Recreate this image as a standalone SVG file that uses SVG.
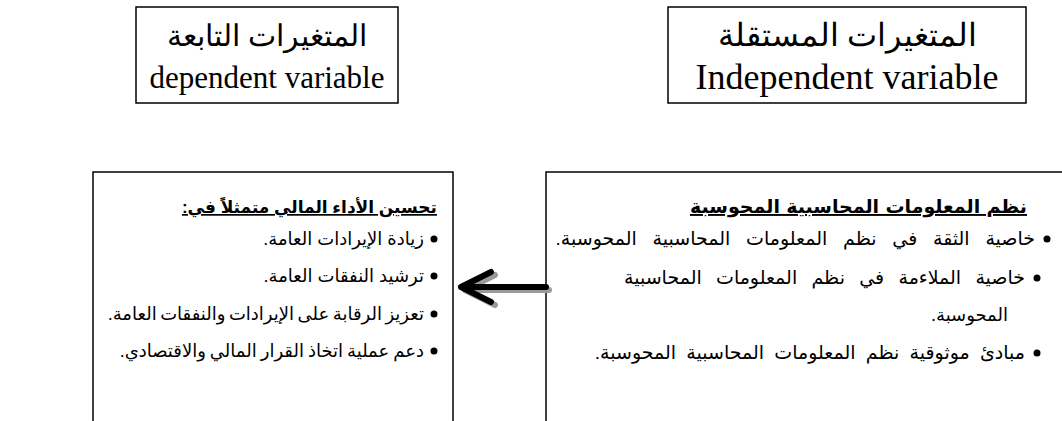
<svg xmlns="http://www.w3.org/2000/svg" width="1062" height="421" viewBox="0 0 1062 421">
  <defs>
    <style>
      .box { fill: #ffffff; stroke: #000000; stroke-width: 1.5; }
      .ar-serif { font-family: "Liberation Serif", "DejaVu Serif", serif; fill: #000; }
      .en-serif { font-family: "Liberation Serif", serif; fill: #000; }
      .title { font-family: "Liberation Sans", "DejaVu Sans", sans-serif; font-weight: bold; text-decoration: underline; fill: #000; }
      .item { font-family: "Liberation Sans", "DejaVu Sans", sans-serif; fill: #000; }
      .dot { fill: #000; }
      .arrow { fill: none; stroke-width: 6; stroke-linecap: round; stroke-linejoin: round; }
    </style>
  </defs>

  <!-- heading: dependent variable -->
  <g id="dependent-heading">
    <rect class="box" x="136" y="7" width="262" height="96"/>
    <text class="ar-serif" x="267" y="46" font-size="30" text-anchor="middle" direction="rtl">المتغيرات التابعة</text>
    <text class="en-serif" x="267" y="88" font-size="31" text-anchor="middle">dependent variable</text>
  </g>

  <!-- heading: independent variable -->
  <g id="independent-heading">
    <rect class="box" x="668" y="7" width="358" height="96"/>
    <text class="ar-serif" x="847" y="46" font-size="32" text-anchor="middle" direction="rtl">المتغيرات المستقلة</text>
    <text class="en-serif" x="847" y="89" font-size="36" text-anchor="middle">Independent variable</text>
  </g>

  <!-- dependent: financial performance -->
  <g id="financial-performance">
    <rect class="box" x="93" y="172" width="360" height="260"/>
    <text class="title" x="437" y="213" font-size="17" direction="rtl" text-anchor="start">تحسين الأداء المالي متمثلاً في:</text>
    <g font-size="18">
      <circle class="dot" cx="434" cy="239" r="3.5"/>
      <text class="item" x="424" y="245" direction="rtl" text-anchor="start">زيادة الإيرادات العامة.</text>
      <circle class="dot" cx="434" cy="276" r="3.5"/>
      <text class="item" x="424" y="282" direction="rtl" text-anchor="start">ترشيد النفقات العامة.</text>
      <circle class="dot" cx="434" cy="314" r="3.5"/>
      <text class="item" x="424" y="320" word-spacing="-1.5" direction="rtl" text-anchor="start">تعزيز الرقابة على الإيرادات والنفقات العامة.</text>
      <circle class="dot" cx="434" cy="351" r="3.5"/>
      <text class="item" x="424" y="357" word-spacing="-1" direction="rtl" text-anchor="start">دعم عملية اتخاذ القرار المالي والاقتصادي.</text>
    </g>
  </g>

  <!-- independent: computerized accounting information systems -->
  <g id="accounting-systems">
    <rect class="box" x="546" y="172" width="530" height="260"/>
    <text class="title" x="1027" y="213" font-size="19" word-spacing="1" direction="rtl" text-anchor="start">نظم المعلومات المحاسبية المحوسبة</text>
    <g font-size="19">
      <circle class="dot" cx="1047" cy="239" r="3.5"/>
      <text class="item" x="1035" y="245" word-spacing="10.5" direction="rtl" text-anchor="start">خاصية الثقة في نظم المعلومات المحاسبية المحوسبة.</text>
      <circle class="dot" cx="1037" cy="278" r="3.5"/>
      <text class="item" x="1025" y="284" word-spacing="9" direction="rtl" text-anchor="start">خاصية الملاءمة في نظم المعلومات المحاسبية</text>
      <text class="item" x="1008" y="321" font-size="18" direction="rtl" text-anchor="start">المحوسبة.</text>
      <circle class="dot" cx="1037" cy="353" r="3.5"/>
      <text class="item" x="1025" y="359" word-spacing="5" direction="rtl" text-anchor="start">مبادئ موثوقية نظم المعلومات المحاسبية المحوسبة.</text>
    </g>
  </g>

  <!-- connector: independent -> dependent, with drop shadow -->
  <g id="connectors">
    <path class="arrow" stroke="#9a9a9a" d="M549 290 H465 M495 275 L465 290 L495 305"/>
    <path class="arrow" stroke="#000000" d="M546 287 H461 M491 272 L461 287 L491 302"/>
  </g>
</svg>
